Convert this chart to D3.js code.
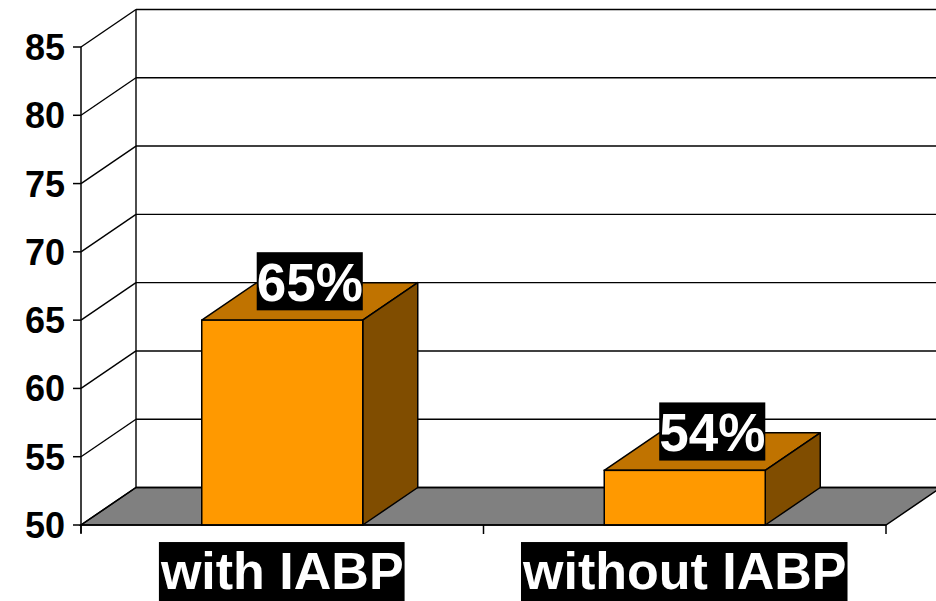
<!DOCTYPE html>
<html><head><meta charset="utf-8">
<script src="https://cdn.jsdelivr.net/npm/d3@7"></script>
<style>html,body{margin:0;padding:0;background:#fff;overflow:hidden}</style>
</head><body>
<svg id="c" width="936" height="601"></svg>
<script>
const categories = ["with IABP", "without IABP"];
const values = [65, 54];
const valueLabels = ["65%", "54%"];
const yTicks = [50, 55, 60, 65, 70, 75, 80, 85];

const W = 936, H = 601;
const font = "'Liberation Sans', Arial, sans-serif";
const dx = 55, dy = -37.5;
const svg = d3.select("#c");

const y = d3.scaleLinear().domain([50, 85]).range([525, 47]);
const x = d3.scaleBand().domain(categories).range([81, 886]).paddingInner(0.6).paddingOuter(0.3);
const xs = d3.scaleBand().domain(categories).range([81, 886]).padding(0);

const x0 = 81, x1 = 886, yb = y(50), yt = y(85);

// floor
svg.append("path")
  .attr("d", `M${x0},${yb}L${x1},${yb}L${x1+dx},${yb+dy}L${x0+dx},${yb+dy}Z`)
  .attr("fill", "#808080").attr("stroke", "#000").attr("stroke-width", 1.5);

// gridlines: back wall + left wall
const g = svg.append("g").attr("stroke", "#000").attr("stroke-width", 1.4).attr("fill", "none");
yTicks.forEach(t => {
  g.append("line").attr("x1", x0 + dx).attr("y1", y(t) + dy).attr("x2", W + 10).attr("y2", y(t) + dy);
  g.append("line").attr("x1", x0).attr("y1", y(t)).attr("x2", x0 + dx).attr("y2", y(t) + dy);
});
g.append("line").attr("x1", x0 + dx).attr("y1", yt + dy).attr("x2", x0 + dx).attr("y2", yb + dy);

// bars
const bars = svg.append("g");
categories.forEach((c, i) => {
  const bx0 = x(c), bx1 = x(c) + x.bandwidth(), vy = y(values[i]);
  bars.append("path").attr("d", `M${bx0},${vy}L${bx1},${vy}L${bx1+dx},${vy+dy}L${bx0+dx},${vy+dy}Z`)
    .attr("fill", "#C07300").attr("stroke", "#000").attr("stroke-width", 1.5).attr("stroke-linejoin", "round");
  bars.append("path").attr("d", `M${bx1},${vy}L${bx1+dx},${vy+dy}L${bx1+dx},${yb+dy}L${bx1},${yb}Z`)
    .attr("fill", "#804D00").attr("stroke", "#000").attr("stroke-width", 1.5).attr("stroke-linejoin", "round");
  bars.append("rect").attr("x", bx0).attr("y", vy).attr("width", bx1 - bx0).attr("height", yb - vy)
    .attr("fill", "#FF9900").attr("stroke", "#000").attr("stroke-width", 1.5);
});

// front axes
const ax = svg.append("g").attr("stroke", "#000").attr("stroke-width", 1.5);
ax.append("line").attr("x1", x0).attr("y1", yt).attr("x2", x0).attr("y2", yb + 8);
ax.append("line").attr("x1", x0).attr("y1", yb).attr("x2", x1).attr("y2", yb);
yTicks.forEach(t => ax.append("line").attr("x1", x0 - 8).attr("y1", y(t)).attr("x2", x0).attr("y2", y(t)));
[x0, ...categories.slice(1).map(c => xs(c)), x1].forEach(px =>
  ax.append("line").attr("x1", px).attr("y1", yb).attr("x2", px).attr("y2", yb + 9));

// y tick labels
svg.append("g").selectAll("text").data(yTicks).join("text")
  .attr("x", 65).attr("y", d => y(d)).attr("dy", "0.36em")
  .attr("text-anchor", "end").attr("font-family", font).attr("font-weight", "bold")
  .attr("font-size", 36).attr("fill", "#000").text(d => d);

function boxedLabel(parent, txt, cx, baseline, fs, padX, padTop, padBot) {
  const grp = parent.append("g");
  const r = grp.append("rect").attr("fill", "#000");
  const t = grp.append("text").attr("x", cx).attr("y", baseline).attr("text-anchor", "middle")
    .attr("font-family", font).attr("font-weight", "bold").attr("font-size", fs).attr("fill", "#fff").text(txt);
  const bb = t.node().getBBox();
  r.attr("x", bb.x - padX).attr("y", baseline - fs * 0.98 - padTop).attr("width", bb.width + 2 * padX)
   .attr("height", fs * 0.98 + fs * 0.23 + padTop + padBot);
}

// value labels
const labs = svg.append("g");
categories.forEach((c, i) => {
  const cx = x(c) + x.bandwidth() / 2 + dx / 2;
  const cy = y(values[i]) + dy;
  boxedLabel(labs, valueLabels[i], cx, cy + 18.5, 53, 0, -3, -3);
});

// category labels
categories.forEach(c => {
  boxedLabel(labs, c, x(c) + x.bandwidth() / 2, 589, 52, 1, -4, 6);
});
</script>
</body></html>
